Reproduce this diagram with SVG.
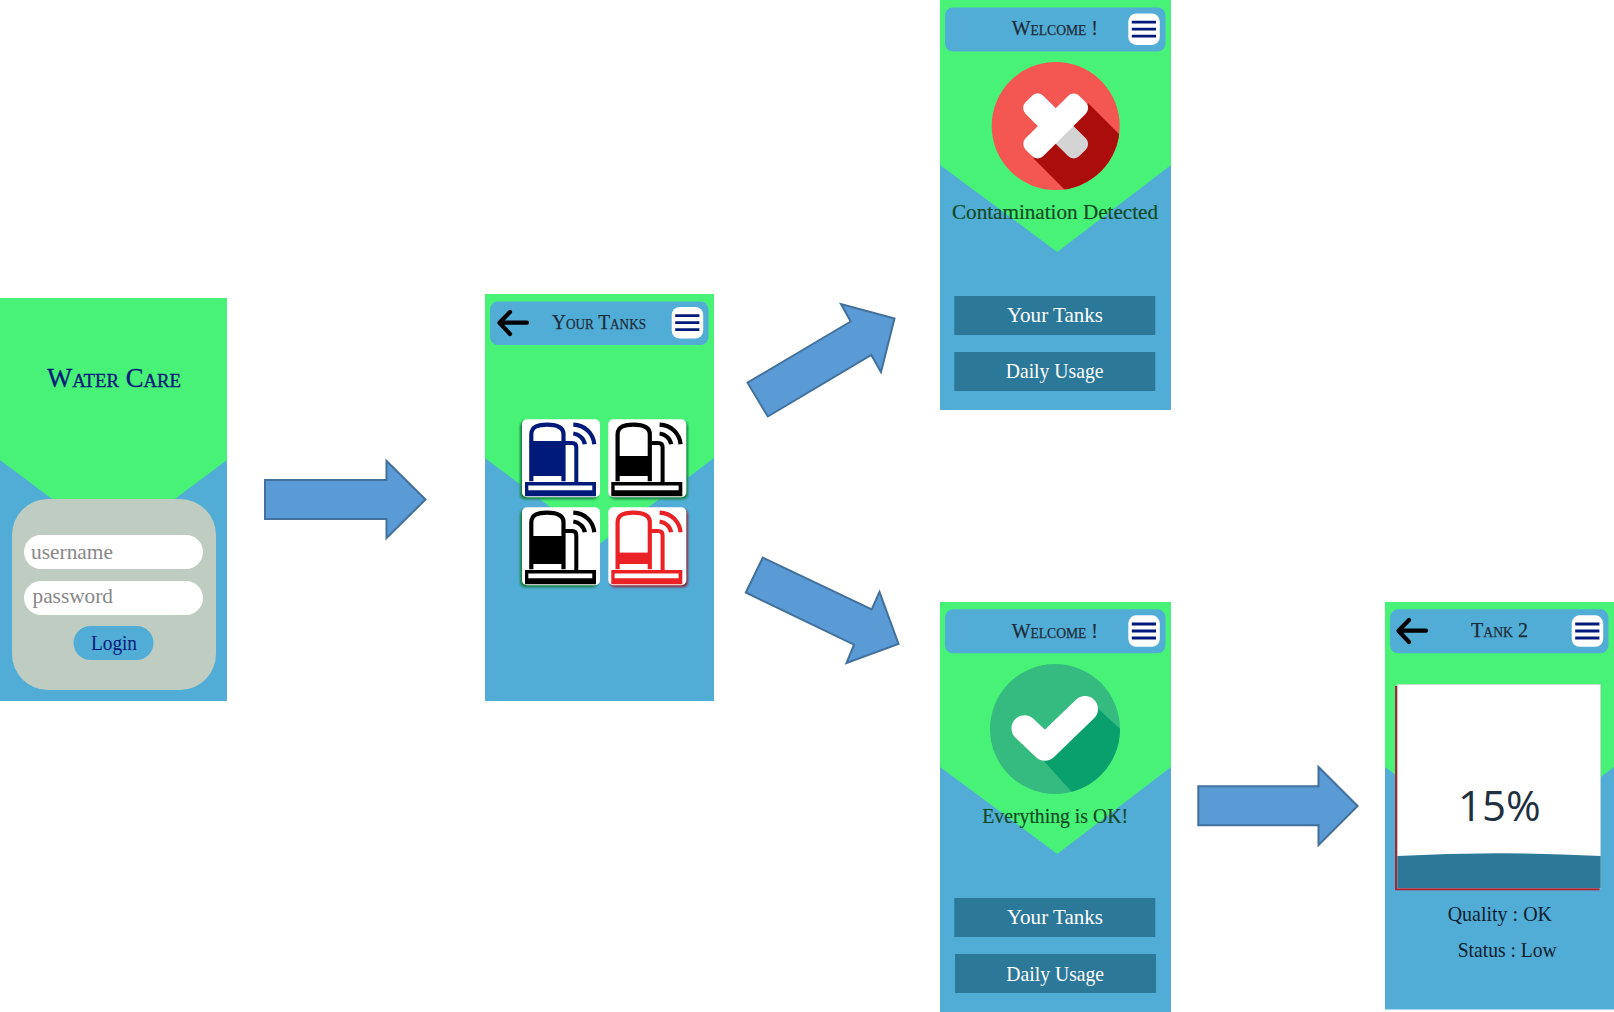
<svg xmlns="http://www.w3.org/2000/svg" width="1614" height="1012" viewBox="0 0 1614 1012">
<style>
.g{fill:#48f277}.b{fill:#52add6}.hd{fill:#52add6}
.m{fill:#fff}.ml{stroke:#001a7a;stroke-width:2.800;fill:none}
.ar{fill:none;stroke:#000;stroke-width:4.200;stroke-linecap:round;stroke-linejoin:round}
.cn{fill:#5b9bd5;stroke:#41719c;stroke-width:2}
.sc{font-family:"Liberation Serif",serif;font-variant:small-caps;fill:#1c2b3a;stroke:#1c2b3a;stroke-width:0.250;font-size:22px}
.btn{fill:#2b7899}
.bt{fill:#fff;font-family:"Liberation Serif",serif;font-size:21px}
.ph{fill:#888;font-family:"Liberation Serif",serif;font-size:21px}
.msg{fill:#0e4a22;stroke:#0e4a22;stroke-width:0.200;font-family:"Liberation Serif",serif;font-size:22px}
.q{fill:#0d2030;font-family:"Liberation Serif",serif;font-size:21px}
.tile{fill:#fff}
</style>
<defs>
<filter id="bl" x="-20%" y="-20%" width="140%" height="140%"><feGaussianBlur stdDeviation="0.900"/></filter>
<symbol id="tank" overflow="visible" width="78" height="78" viewBox="0 0 78 78">
<path d="M9.300,62 V15 C9.300,7 17,5.300 25,5.300 C34,5.300 41.500,7 41.500,15 V62" fill="#fff" stroke="currentColor" stroke-width="4.200"/>
<path d="M43,23.800 H50 Q54.300,23.800 54.300,28 V63" fill="none" stroke="currentColor" stroke-width="4"/>
<path d="M51.300,5.400 C63,6 71,14 72.300,25 M51.300,14.200 C57,15 62,19 62.800,25" fill="none" stroke="currentColor" stroke-width="4.200"/>
<path d="M3,62.700 H74 V77 H3 Z M6.300,66.300 V71 H70.300 V66.300 Z" fill="currentColor" fill-rule="evenodd"/>
</symbol>
<symbol id="menu" overflow="visible" width="32" height="32" viewBox="0 0 32 32">
<rect class="m" width="31.500" height="31.500" rx="8"/>
<path class="ml" d="M3.500,8.700 H27.700 M3.500,15.700 H27.700 M3.500,22.700 H27.700"/>
</symbol>
<clipPath id="c1"><circle cx="1055.700" cy="126" r="64"/></clipPath>
<clipPath id="c2"><circle cx="1055" cy="729" r="65"/></clipPath>
</defs>

<g id="screen-login">
<rect class="b" x="0" y="298" width="227" height="403"/>
<polygon class="g" points="0,298 227,298 227,460 113.500,545 0,460"/>
<text x="47" y="387" font-family="Liberation Serif, serif" font-size="27" style="font-variant:small-caps" fill="#001a7a" stroke="#001a7a" stroke-width="0.350" textLength="134" lengthAdjust="spacingAndGlyphs">Water Care</text>
<rect x="12" y="499" width="204" height="191" rx="36" fill="#bfccc2"/>
<rect x="24" y="535" width="179" height="34" rx="17" fill="#fff"/>
<rect x="24" y="581" width="179" height="34" rx="17" fill="#fff"/>
<rect x="73.500" y="626" width="80" height="34" rx="17" fill="#52add6"/>
<text class="ph" x="31" y="558.500" textLength="82" lengthAdjust="spacingAndGlyphs">username</text>
<text class="ph" x="32.500" y="603" textLength="80.500" lengthAdjust="spacingAndGlyphs">password</text>
<text x="91" y="650" font-family="Liberation Serif, serif" font-size="21" fill="#001a7a" textLength="46" lengthAdjust="spacingAndGlyphs">Login</text>
</g>

<g id="screen-tanks">
<rect class="b" x="485" y="294" width="229" height="407"/>
<polygon class="g" points="485,294 714,294 714,458 599.500,544 485,458"/>
<rect class="hd" x="490" y="301.500" width="218.500" height="43.500" rx="8"/>
<path class="ar" d="M527,322.700 H500 M510,312 L499.500,322.700 L510,334"/>
<text class="sc" x="552" y="329.300" textLength="94" lengthAdjust="spacingAndGlyphs">Your Tanks</text>
<use href="#menu" x="671.700" y="307"/>
</g>
<g id="tile-1" color="#001a7a">
<rect x="520" y="421.300" width="78" height="78" rx="5" fill="#17803f" filter="url(#bl)"/>
<rect class="tile" x="522" y="419.300" width="78" height="78" rx="5"/>
<use href="#tank" x="522" y="419.300"/>
<rect x="531" y="441" width="31" height="35" fill="#001a7a"/>
</g>
<g id="tile-2" color="#000">
<rect x="610" y="421.300" width="78" height="78" rx="5" fill="#17803f" filter="url(#bl)"/>
<rect class="tile" x="608.300" y="419.300" width="78" height="78" rx="5"/>
<use href="#tank" x="608.300" y="419.300"/>
<rect x="617.300" y="456" width="31" height="20" fill="#000"/>
</g>
<g id="tile-3" color="#000">
<rect x="520" y="509.300" width="78" height="78" rx="5" fill="#17803f" filter="url(#bl)"/>
<rect class="tile" x="522" y="507.300" width="78" height="78" rx="5"/>
<use href="#tank" x="522" y="507.300"/>
<rect x="531" y="536" width="31" height="28" fill="#000"/>
</g>
<g id="tile-4" color="#ea2226">
<rect x="610" y="509.300" width="78" height="78" rx="5" fill="#8c2b3c" filter="url(#bl)"/>
<rect class="tile" x="608.300" y="507.300" width="78" height="78" rx="5"/>
<use href="#tank" x="608.300" y="507.300"/>
<rect x="617.300" y="552.600" width="31" height="11.400" fill="#ea2226"/>
</g>

<g id="screen-contamination">
<rect class="b" x="940" y="0" width="231" height="410"/>
<polygon class="g" points="940,0 1171,0 1171,165 1057.300,252 940,165"/>
<rect class="hd" x="945" y="7.500" width="220.500" height="44" rx="8"/>
<text class="sc" x="1011.700" y="35" textLength="86.300" lengthAdjust="spacingAndGlyphs">Welcome !</text>
<use href="#menu" x="1128.300" y="13.400"/>
<circle cx="1055.700" cy="126" r="64" fill="#f45751"/>
<polygon clip-path="url(#c1)" points="1088.300,103.300 1135,150 1135,200 1075,200 1033.300,158.300 1055,126" fill="#ab0d0c"/>
<rect x="1017.700" y="113.500" width="76" height="25" rx="8" fill="#d4d4d4" transform="rotate(45 1055.700 126)"/>
<rect x="1017.700" y="113.500" width="42" height="25" rx="8" fill="#fff" transform="rotate(45 1055.700 126)"/>
<rect x="1017.700" y="113.500" width="76" height="25" rx="8" fill="#fff" transform="rotate(-45 1055.700 126)"/>
<text class="msg" x="952" y="219" textLength="206" lengthAdjust="spacingAndGlyphs">Contamination Detected</text>
<rect class="btn" x="954.300" y="296" width="201" height="39"/>
<text class="bt" x="1007" y="322" textLength="96" lengthAdjust="spacingAndGlyphs">Your Tanks</text>
<rect class="btn" x="954.300" y="352" width="201" height="39"/>
<text class="bt" x="1005.700" y="378" textLength="97.800" lengthAdjust="spacingAndGlyphs">Daily Usage</text>
</g>

<g id="screen-ok">
<rect class="b" x="940" y="602" width="231" height="410"/>
<polygon class="g" points="940,602 1171,602 1171,767 1057.300,854 940,767"/>
<rect class="hd" x="945" y="609.300" width="220.500" height="44" rx="8"/>
<text class="sc" x="1011.700" y="637.500" textLength="86.300" lengthAdjust="spacingAndGlyphs">Welcome !</text>
<use href="#menu" x="1128.300" y="615.300"/>
<circle cx="1055" cy="729" r="65" fill="#35ba7f"/>
<polygon clip-path="url(#c2)" points="1085,698 1097.700,708.300 1130,738 1130,810 1088,810 1045,762.300 1035,740" fill="#0aa06e"/>
<path d="M1024.500,728.300 L1045,747.700 L1085,709" fill="none" stroke="#fff" stroke-width="26" stroke-linecap="round" stroke-linejoin="round"/>
<text class="msg" x="982.300" y="823" textLength="145.700" lengthAdjust="spacingAndGlyphs">Everything is OK!</text>
<rect class="btn" x="954.300" y="898" width="201" height="39"/>
<text class="bt" x="1007" y="924" textLength="96" lengthAdjust="spacingAndGlyphs">Your Tanks</text>
<rect class="btn" x="955" y="954" width="201" height="39"/>
<text class="bt" x="1006.300" y="980.700" textLength="97.800" lengthAdjust="spacingAndGlyphs">Daily Usage</text>
</g>

<g id="screen-tank2">
<rect class="b" x="1385" y="602" width="229" height="407.500"/>
<polygon class="g" points="1385,602 1614,602 1614,767 1499.500,853 1385,767"/>
<rect class="hd" x="1390" y="609.300" width="218.500" height="44" rx="8"/>
<path class="ar" d="M1426,630.700 H1399 M1409,620 L1398.500,630.700 L1409,642"/>
<text class="sc" x="1471" y="637" textLength="57" lengthAdjust="spacingAndGlyphs">Tank 2</text>
<use href="#menu" x="1571.700" y="615.300"/>
<rect x="1395" y="686" width="204.500" height="204.300" fill="#a82434"/>
<rect x="1397.300" y="684.300" width="203.400" height="203.700" fill="#fff" stroke="#bfccc2" stroke-width="0.600"/>
<path d="M1397.300,856 Q1499,850.600 1600.700,856 V888 H1397.300 Z" fill="#2b7899"/>
<text x="1458" y="821" font-family="Open Sans, Liberation Sans, sans-serif" font-size="42" fill="#1f3040" textLength="82.700" lengthAdjust="spacingAndGlyphs">15%</text>
<text class="q" x="1447.700" y="920.700" textLength="104.300" lengthAdjust="spacingAndGlyphs">Quality : OK</text>
<text class="q" x="1457.700" y="956.700" textLength="99" lengthAdjust="spacingAndGlyphs">Status : Low</text>
</g>

<g id="connectors">
<polygon class="cn" points="265,480 386.500,480 386.500,461 425.500,499.500 386.500,538 386.500,519 265,519"/>
<polygon class="cn" points="747.500,382.700 850.700,321.500 841,304 894.500,318.500 881,372 871.300,355 767.800,416.500"/>
<polygon class="cn" points="762.800,557.700 871.700,609.500 879.500,592 898.500,644 846.500,663 854,644.700 745.800,592.500"/>
<polygon class="cn" points="1198.300,786.300 1318.500,786.300 1318.500,767 1357.600,806 1318.500,845 1318.500,825.300 1198.300,825.300"/>
</g>
</svg>
